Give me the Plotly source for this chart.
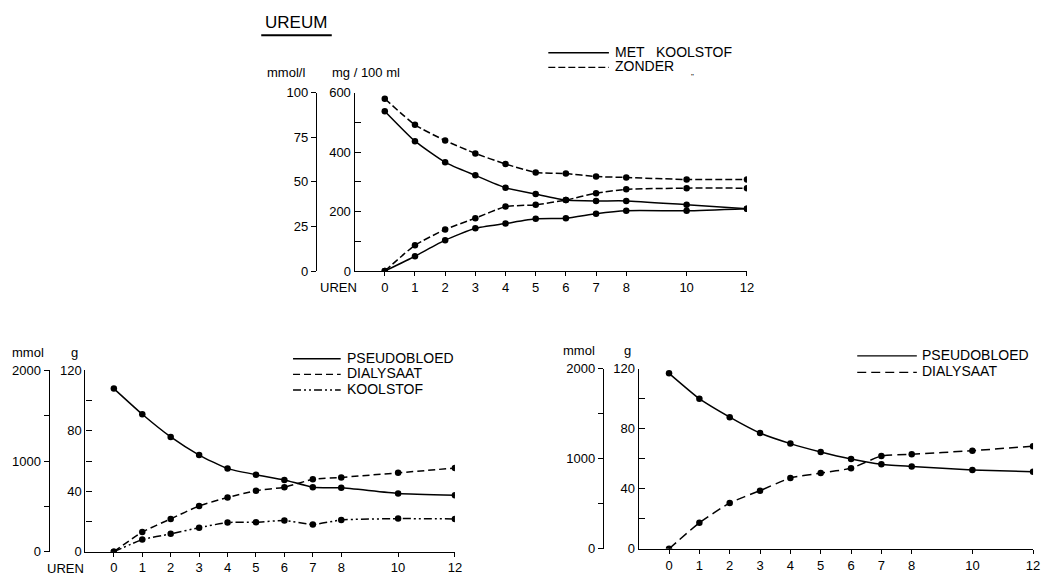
import plotly.graph_objects as go

W, H = 1048, 586
FONT = "Liberation Sans, Arial, sans-serif"

# ---------------- data ----------------
HOURS = [0, 1, 2, 3, 4, 5, 6, 7, 8, 10, 12]
X_TICKS = [0, 1, 2, 3, 4, 5, 6, 7, 8, 10, 12]

# top panel: ureum, mg/100 ml
met_bloed = [538, 437, 366, 322, 280, 259, 239, 236, 236, 223, 210]
met_dial = [0, 50, 104, 144, 160, 176, 178, 193, 203, 203, 210]
zonder_bloed = [580, 492, 439, 396, 360, 332, 328, 318, 315, 308, 308]
zonder_dial = [0, 87, 140, 178, 217, 223, 239, 262, 275, 279, 279]

# bottom-left panel: g
pb_left = [108, 91, 76, 64, 55, 51, 47.5, 42.7, 42.3, 38.6, 37.4]
dial_left = [0, 13, 21.7, 30.3, 35.9, 40.4, 42.7, 47.9, 49.2, 52.2, 55.4]
kool_left = [0, 8, 11.8, 15.9, 19.3, 19.5, 20.6, 18, 21, 21.9, 21.7]

# bottom-right panel: g
pb_right = [116.8, 99.9, 87.6, 77, 70, 64.4, 59.7, 56.2, 54.7, 52.5, 51.2]
dial_right = [0, 17.3, 30.5, 38.7, 47.1, 50.4, 53.6, 61.8, 62.9, 65.3, 68.3]

MG_TICKS = [0, 100, 200, 300, 400, 500, 600]
MG_TEXT = ["0", "", "200", "", "400", "", "600"]
MMOLL_TICKS = [0, 25, 50, 75, 100]
G_TICKS = [0, 20, 40, 60, 80, 100, 120]
G_TEXT = ["0", "", "40", "", "80", "", "120"]
MMOL_TICKS = [0, 500, 1000, 1500, 2000]
MMOL_TEXT = ["0", "", "1000", "", "2000"]


def PX(x):
    return x / W


def PY(y):
    return 1 - y / H


DASH_Z = "7px,3px"
DASH_DL = "7px,4px"
DASH_DR = "9px,5px"
DASH_K = "8px,3px,2px,3px,2px,3px"

fig = go.Figure()


def add_line(x, y, xa, ya, dash):
    fig.add_trace(go.Scatter(
        x=x, y=y, xaxis=xa, yaxis=ya, mode="lines+markers",
        line=dict(color="black", width=1.5, dash=dash, shape="spline", smoothing=0.5),
        marker=dict(color="black", size=6.5), showlegend=False, hoverinfo="skip"))


# top
add_line(HOURS, met_bloed, "x", "y", "solid")
add_line(HOURS, met_dial, "x", "y", "solid")
add_line(HOURS, zonder_bloed, "x", "y", DASH_Z)
add_line(HOURS, zonder_dial, "x", "y", DASH_Z)
# bottom left
add_line(HOURS, pb_left, "x2", "y2", "solid")
add_line(HOURS, dial_left, "x2", "y2", DASH_DL)
add_line(HOURS, kool_left, "x2", "y2", DASH_K)
# bottom right
add_line(HOURS, pb_right, "x3", "y3", "solid")
add_line(HOURS, dial_right, "x3", "y3", DASH_DR)

# dummy traces so the secondary (mmol) axes are drawn
for xa, ya in [("x", "y4"), ("x2", "y5"), ("x3", "y6")]:
    fig.add_trace(go.Scatter(x=[None], y=[None], xaxis=xa, yaxis=ya, mode="lines",
                             showlegend=False, hoverinfo="skip"))

tickfont = dict(family=FONT, size=13, color="black")


def xaxis(domain, anchor):
    return dict(domain=domain, anchor=anchor, range=[-1, 12], showline=True,
                linecolor="black", linewidth=1.3, showgrid=False, zeroline=False,
                tickvals=X_TICKS, ticks="outside", ticklen=4, tickcolor="black",
                tickfont=tickfont, fixedrange=True)


def yaxis(domain, anchor, rng, vals, text):
    return dict(domain=domain, anchor=anchor, range=rng, showline=True,
                linecolor="black", linewidth=1.3, showgrid=False, zeroline=False,
                tickvals=vals, ticktext=text, ticks="inside", ticklen=6,
                tickcolor="black", tickfont=tickfont, fixedrange=True)


def yfree(over, pos, rng, vals, text):
    return dict(overlaying=over, anchor="free", position=pos, range=rng,
                showline=True, linecolor="black", linewidth=1.3, showgrid=False,
                zeroline=False, tickvals=vals, ticktext=text, ticks="outside",
                ticklen=5, tickcolor="black", tickfont=tickfont, side="left",
                fixedrange=True)


top_xd = [PX(357), PX(752)]
top_yd = [PY(271), PY(88)]
bl_xd = [PX(86), PX(458)]
bl_yd = [PY(559), PY(373)]
br_xd = [PX(643), PX(1040)]
br_yd = [PY(556), PY(371)]

fig.update_layout(
    width=W, height=H, margin=dict(l=0, r=0, t=0, b=0),
    paper_bgcolor="white", plot_bgcolor="white",
    font=dict(family=FONT, size=13, color="black"),
    xaxis=xaxis(top_xd, "y"),
    yaxis=yaxis(top_yd, "x", [0, 600], MG_TICKS, MG_TEXT),
    xaxis2=xaxis(bl_xd, "y2"),
    yaxis2=yaxis(bl_yd, "x2", [0, 120], G_TICKS, G_TEXT),
    xaxis3=xaxis(br_xd, "y3"),
    yaxis3=yaxis(br_yd, "x3", [0, 120], G_TICKS, G_TEXT),
    yaxis4=yfree("y", PX(318), [0, 100], MMOLL_TICKS, [str(v) for v in MMOLL_TICKS]),
    yaxis5=yfree("y2", PX(49), [0, 2000], MMOL_TICKS, MMOL_TEXT),
    yaxis6=yfree("y3", PX(607), [0, 2000], MMOL_TICKS, MMOL_TEXT),
)

annotations = []
shapes = []


def text(x, y, s, size=13, anchor="center"):
    annotations.append(dict(x=PX(x), y=PY(y), xref="paper", yref="paper", text=s,
                            showarrow=False, xanchor=anchor, yanchor="middle",
                            font=dict(family=FONT, size=size, color="black")))


def lline(x0, x1, y, dash, width=1.4):
    shapes.append(dict(type="line", xref="paper", yref="paper", x0=PX(x0), x1=PX(x1),
                       y0=PY(y), y1=PY(y), line=dict(color="black", width=width, dash=dash)))


# title
text(298, 16, "UREUM", size=17)
lline(263, 334, 29, "solid", width=2)

# axis titles
text(288, 67, "mmol/l")
text(368, 67, "mg / 100 ml")
text(341, 288, "UREN")
text(28, 355, "mmol")
text(75, 355, "g")
text(66, 576, "UREN")
text(583, 353, "mmol")
text(632, 353, "g")

# legends
lline(552, 613, 47, "solid")
lline(552, 613, 62, DASH_Z)
text(617, 46, "MET   KOOLSTOF", size=14, anchor="left")
text(617, 61, "ZONDER", size=14, anchor="left")
text(697, 71, "\"", size=8)

lline(295, 343, 361, "solid")
lline(295, 343, 377, DASH_DL)
lline(295, 343, 393, DASH_K)
text(347, 360, "PSEUDOBLOED", size=14, anchor="left")
text(347, 376, "DIALYSAAT", size=14, anchor="left")
text(347, 392, "KOOLSTOF", size=14, anchor="left")

lline(863, 923, 358, "solid")
lline(863, 923, 375, DASH_DR)
text(926, 357, "PSEUDOBLOED", size=14, anchor="left")
text(926, 374, "DIALYSAAT", size=14, anchor="left")

fig.update_layout(annotations=annotations, shapes=shapes)
fig.write_html("out.html", config={"displayModeBar": False},
               post_script="document.body.style.margin='0';document.body.style.padding='0';")
